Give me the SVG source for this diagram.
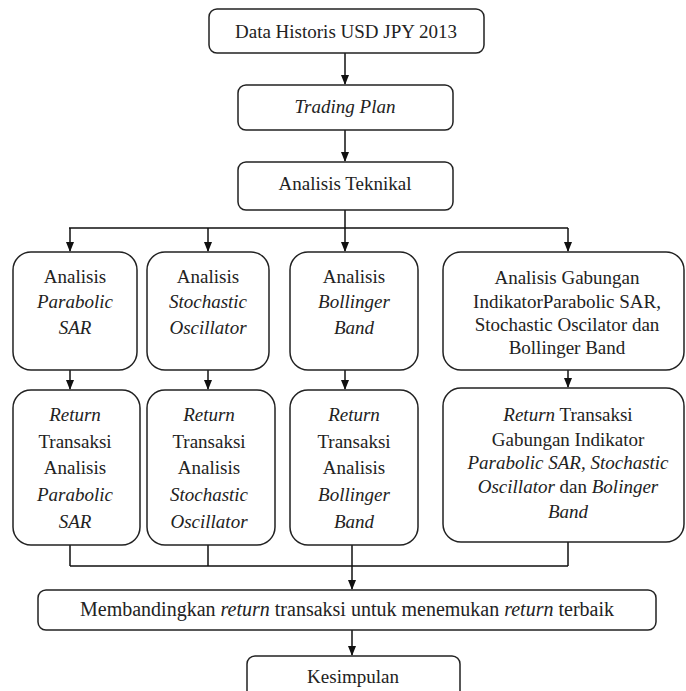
<svg xmlns="http://www.w3.org/2000/svg" width="686" height="691" viewBox="0 0 686 691">
<defs>
<marker id="ah" markerWidth="10" markerHeight="11" refX="9" refY="5" orient="auto" markerUnits="userSpaceOnUse">
<path d="M0,1 L10,5 L0,9 Z" fill="#111"/>
</marker>
<style>
.b{fill:#fff;stroke:#222;stroke-width:1.5}
.t{font-family:'Liberation Serif',Tinos,'Times New Roman','DejaVu Serif',serif;font-size:19px;fill:#222;text-anchor:middle}
.i{font-style:italic}
.c{fill:none;stroke:#111;stroke-width:1.5}
</style>
</defs>
<rect width="686" height="691" fill="#fff"/>
<g id="connectors">
<path class="c" d="M345,53 V84" marker-end="url(#ah)"/>
<path class="c" d="M345,130 V161" marker-end="url(#ah)"/>
<path class="c" d="M345,210 V228 M69,228 H568"/>
<path class="c" d="M70,228 V251" marker-end="url(#ah)"/>
<path class="c" d="M208,228 V251" marker-end="url(#ah)"/>
<path class="c" d="M345,228 V251" marker-end="url(#ah)"/>
<path class="c" d="M568,228 V251" marker-end="url(#ah)"/>
<path class="c" d="M70,370 V389" marker-end="url(#ah)"/>
<path class="c" d="M208,370 V389" marker-end="url(#ah)"/>
<path class="c" d="M345,370 V389" marker-end="url(#ah)"/>
<path class="c" d="M568,370 V387" marker-end="url(#ah)"/>
<path class="c" d="M70,545 V566 M208,545 V566 M568,542 V566 M70,566 H568"/>
<path class="c" d="M352,545 V589" marker-end="url(#ah)"/>
<path class="c" d="M352,630 V655" marker-end="url(#ah)"/>
</g>
<g id="n1"><rect class="b" x="209" y="9" width="275" height="44" rx="8"/><text class="t" x="346" y="38">Data Historis USD JPY 2013</text></g>
<g id="n2"><rect class="b" x="238" y="85" width="215" height="45" rx="8"/><text class="t i" x="345" y="113">Trading Plan</text></g>
<g id="n3"><rect class="b" x="238" y="162" width="215" height="48" rx="8"/><text class="t" x="345" y="190">Analisis Teknikal</text></g>
<g id="nA"><rect class="b" x="13" y="252" width="124" height="118" rx="18"/>
<text class="t" x="75" y="283">Analisis</text><text class="t i" x="75" y="308">Parabolic</text><text class="t i" x="75" y="334">SAR</text></g>
<g id="nB"><rect class="b" x="147" y="252" width="122" height="118" rx="18"/>
<text class="t" x="208" y="283">Analisis</text><text class="t i" x="208" y="308">Stochastic</text><text class="t i" x="208" y="334">Oscillator</text></g>
<g id="nC"><rect class="b" x="290" y="252" width="128" height="118" rx="18"/>
<text class="t" x="354" y="283">Analisis</text><text class="t i" x="354" y="308">Bollinger</text><text class="t i" x="354" y="334">Band</text></g>
<g id="nD"><rect class="b" x="443" y="252" width="241" height="118" rx="18"/>
<text class="t" x="567" y="284">Analisis Gabungan</text><text class="t" x="567" y="308">IndikatorParabolic SAR,</text><text class="t" x="567" y="331">Stochastic Oscilator dan</text><text class="t" x="567" y="354">Bollinger Band</text></g>
<g id="nA2"><rect class="b" x="13" y="390" width="127" height="155" rx="18"/>
<text class="t i" x="75" y="421">Return</text><text class="t" x="75" y="448">Transaksi</text><text class="t" x="75" y="474">Analisis</text><text class="t i" x="75" y="501">Parabolic</text><text class="t i" x="75" y="528">SAR</text></g>
<g id="nB2"><rect class="b" x="147" y="390" width="128" height="155" rx="18"/>
<text class="t i" x="209" y="421">Return</text><text class="t" x="209" y="448">Transaksi</text><text class="t" x="209" y="474">Analisis</text><text class="t i" x="209" y="501">Stochastic</text><text class="t i" x="209" y="528">Oscillator</text></g>
<g id="nC2"><rect class="b" x="290" y="390" width="128" height="155" rx="18"/>
<text class="t i" x="354" y="421">Return</text><text class="t" x="354" y="448">Transaksi</text><text class="t" x="354" y="474">Analisis</text><text class="t i" x="354" y="501">Bollinger</text><text class="t i" x="354" y="528">Band</text></g>
<g id="nD2"><rect class="b" x="443" y="388" width="241" height="154" rx="18"/>
<text class="t" x="568" y="421"><tspan class="i">Return</tspan> Transaksi</text>
<text class="t" x="568" y="446">Gabungan Indikator</text>
<text class="t i" x="568" y="469">Parabolic SAR, Stochastic</text>
<text class="t" x="568" y="493"><tspan class="i">Oscillator</tspan> dan <tspan class="i">Bolinger</tspan></text>
<text class="t i" x="568" y="518">Band</text></g>
<g id="nE"><rect class="b" x="38" y="590" width="618" height="40" rx="8"/>
<text class="t" x="347" y="616" style="font-size:20px">Membandingkan <tspan class="i">return</tspan> transaksi untuk menemukan <tspan class="i">return</tspan> terbaik</text></g>
<g id="nF"><rect class="b" x="247" y="656" width="213" height="50" rx="8"/><text class="t" x="353" y="683">Kesimpulan</text></g>
</svg>
